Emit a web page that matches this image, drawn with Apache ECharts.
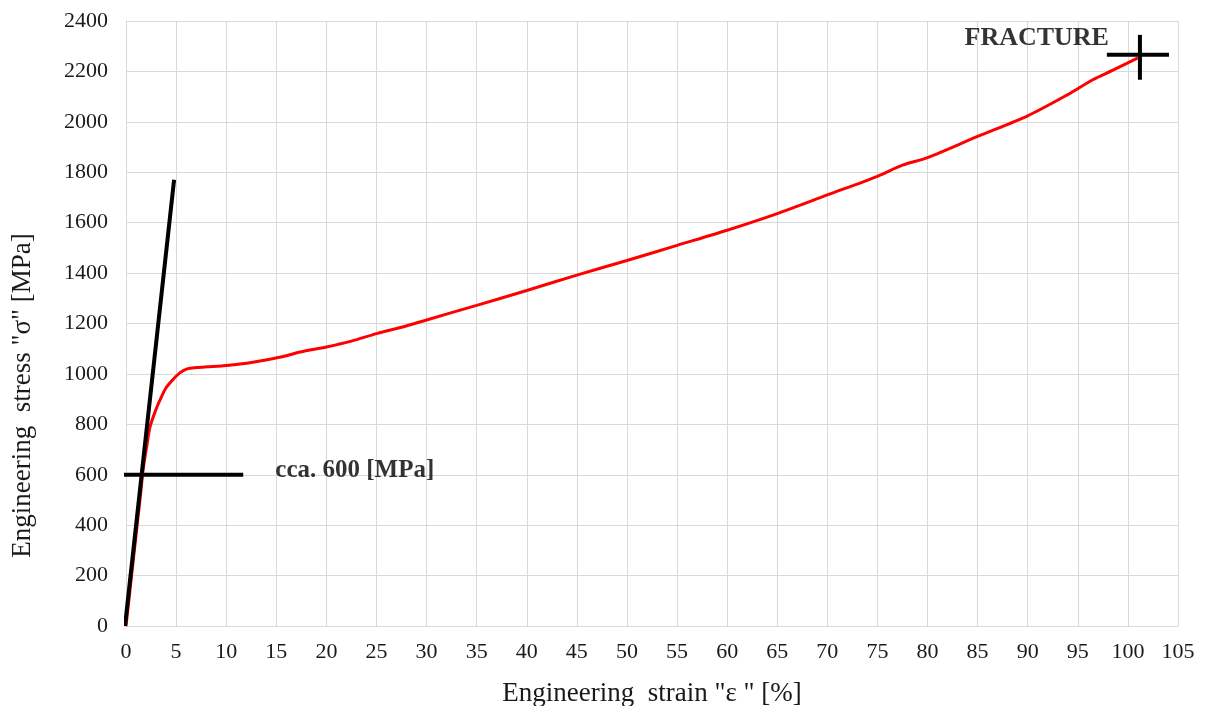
<!DOCTYPE html>
<html><head><meta charset="utf-8">
<script src="https://cdn.jsdelivr.net/npm/echarts@6/dist/echarts.min.js"></script>
<style>html,body{margin:0;padding:0;background:#fff}#c{width:1205px;height:706px}</style>
</head><body><div id="c"></div>
<script>
// Stress-strain curve (strain %, stress MPa)
const strain = [0, 0.5, 1.0, 1.5, 1.7, 2.1, 2.4, 3.0, 3.4, 4.0, 4.7, 5.4, 6.1, 7.0, 8.1, 9.5, 10.7, 12.5, 14.1, 15.8, 17.4, 20, 22.5, 25, 27.5, 30, 35, 40, 45, 50, 55, 60, 65, 70, 75, 77.5, 80, 85, 90, 94, 96.5, 98.5, 101];
const stress = [0, 180, 360, 540, 619, 720, 790, 860, 897, 945, 978, 1005, 1020, 1025, 1028, 1031, 1036, 1045, 1056, 1070, 1087, 1107, 1130, 1160, 1185, 1214, 1272, 1331, 1392, 1450, 1510, 1570, 1636, 1710, 1784, 1828, 1858, 1942, 2024, 2108, 2167, 2205, 2254];
// Annotation lines
const elasticLine = [[-0.1, 0], [4.8, 1770]];
const yieldLine = [[-1.6, 600], [11.7, 600]];
const fractureH = [[97.9, 2266], [104.1, 2266]];
const fractureV = [[101.2, 2345], [101.2, 2167]];
const yieldLabelPos = [[14.9, 615]];
const fractureLabelPos = [[90.9, 2330]];
const yieldText = 'cca. 600 [MPa]';
const fractureText = 'FRACTURE';
const xTitle = 'Engineering  strain "ε " [%]';
const yTitle = 'Engineering  stress "σ" [MPa]';

const chart = echarts.init(document.getElementById('c'));
const font = "'Liberation Serif', 'DejaVu Serif', serif";
const txt = '#1a1a1a';
const curve = strain.map((x, i) => [x, stress[i]]);
chart.setOption({
  animation: false,
  grid: {left: 126, right: 27, top: 21, bottom: 80, containLabel: false, outerBoundsMode: 'none'},
  xAxis: {
    type: 'value', min: 0, max: 105, interval: 5,
    name: xTitle, nameLocation: 'middle', nameGap: 54,
    nameTextStyle: {fontFamily: font, fontSize: 27, color: txt},
    axisLine: {show: true, lineStyle: {color: '#d9d9d9'}},
    axisTick: {show: false},
    axisLabel: {fontFamily: font, fontSize: 22, color: txt, margin: 15, formatter: v => String(v)},
    splitLine: {show: true, lineStyle: {color: '#d9d9d9', width: 1}}
  },
  yAxis: {
    type: 'value', min: 0, max: 2400, interval: 200,
    name: yTitle, nameLocation: 'middle', nameGap: 90,
    nameTextStyle: {fontFamily: font, fontSize: 27, color: txt, padding: [0, 144, 0, 0]},
    axisLine: {show: true, lineStyle: {color: '#d9d9d9'}},
    axisTick: {show: false},
    axisLabel: {fontFamily: font, fontSize: 22, color: txt, margin: 18, formatter: v => String(v)},
    splitLine: {show: true, lineStyle: {color: '#d9d9d9', width: 1}}
  },
  series: [
    {type: 'line', data: curve, smooth: 0.3, showSymbol: false, clip: false,
     lineStyle: {color: '#ff0000', width: 3}, z: 3},
    {type: 'line', data: elasticLine, showSymbol: false, clip: false,
     lineStyle: {color: '#000', width: 4}, z: 4},
    {type: 'line', data: yieldLine, showSymbol: false, clip: false,
     lineStyle: {color: '#000', width: 4}, z: 4},
    {type: 'line', data: fractureH, showSymbol: false, clip: false,
     lineStyle: {color: '#000', width: 4}, z: 4},
    {type: 'line', data: fractureV, showSymbol: false, clip: false,
     lineStyle: {color: '#000', width: 4}, z: 4},
    {type: 'scatter', data: yieldLabelPos, symbolSize: 0, z: 5,
     label: {show: true, position: 'right', distance: 0, formatter: yieldText,
       fontFamily: font, fontSize: 25, fontWeight: 'bold', color: '#000'}},
    {type: 'scatter', data: fractureLabelPos, symbolSize: 0, z: 5,
     label: {show: true, position: 'inside', formatter: fractureText,
       fontFamily: font, fontSize: 26, fontWeight: 'bold', color: '#000'}}
  ]
});
</script></body></html>
